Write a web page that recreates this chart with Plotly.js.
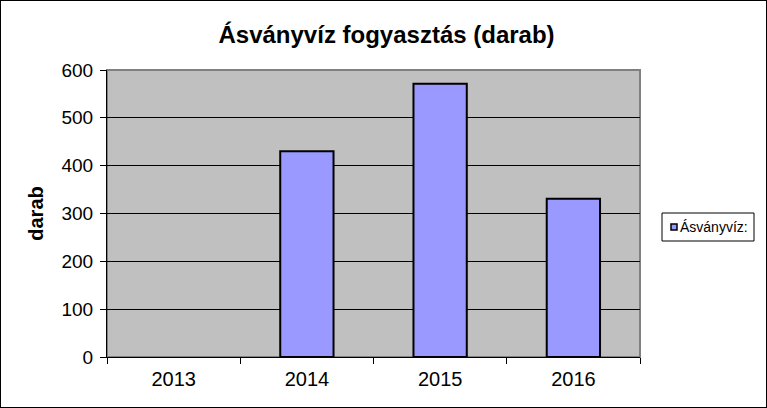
<!DOCTYPE html>
<html>
<head>
<meta charset="utf-8">
<script src="https://cdn.plot.ly/plotly-3.0.1.min.js"></script>
<style>
  html, body { margin: 0; padding: 0; background: #fff; }
  #chart { width: 765px; height: 406px; border: 1px solid #000; }
</style>
</head>
<body>
<div id="chart"></div>
<script>
// chart data
const years = ['2013', '2014', '2015', '2016'];
const darab = [0, 430, 571, 331];
const seriesName = 'Ásványvíz:';

const W = 765, H = 406;
const M = {l: 106, r: 126, t: 69, b: 50};
const PW = W - M.l - M.r, PH = H - M.t - M.b;
// pixel -> paper helpers for the hand-made legend box
const px = x => (x - 1 - M.l) / PW;
const py = y => (H - M.b - (y - 1)) / PH;

const trace = {
  type: 'bar',
  x: years,
  y: darab,
  name: seriesName,
  width: 0.4,
  marker: {
    color: '#9999FF',
    line: {color: '#000000', width: darab.map(v => v > 0 ? 2 : 0)}
  },
  showlegend: false
};

const layout = {
  width: W,
  height: H,
  margin: M,
  paper_bgcolor: '#ffffff',
  plot_bgcolor: '#C0C0C0',
  font: {family: 'Liberation Sans, Arial, sans-serif', color: '#000', size: 19},
  title: {
    text: '<b>Ásványvíz fogyasztás (darab)</b>',
    font: {size: 24, color: '#000'},
    x: 0.504, xanchor: 'center',
    y: 0.918, yanchor: 'middle'
  },
  xaxis: {
    type: 'category',
    showline: true, linecolor: '#000', linewidth: 1,
    showgrid: false,
    ticks: 'outside', ticklen: 6, tickcolor: '#000',
    tickson: 'boundaries',
    tickfont: {size: 20},
    ticklabelstandoff: 4,
    fixedrange: true
  },
  yaxis: {
    range: [0, 600],
    dtick: 100,
    showline: true, linecolor: '#000', linewidth: 1,
    showgrid: true, gridcolor: '#000', gridwidth: 1,
    zeroline: false,
    ticks: 'outside', ticklen: 6, tickcolor: '#000',
    tickfont: {size: 19},
    ticklabelstandoff: 3,
    title: {text: '<b>darab</b>', font: {size: 20}, standoff: 12},
    fixedrange: true
  },
  shapes: [
    {type: 'rect', xref: 'paper', yref: 'paper', x0: 0, x1: 1, y0: 0, y1: 1,
     line: {color: '#808080', width: 2}, layer: 'below'},
    // legend box
    {type: 'rect', xref: 'paper', yref: 'paper',
     x0: px(662), x1: px(754), y0: py(241), y1: py(213),
     line: {color: '#000', width: 1}, fillcolor: '#fff'},
    // legend swatch
    {type: 'rect', xref: 'paper', yref: 'paper',
     x0: px(671), x1: px(677), y0: py(230), y1: py(224),
     line: {color: '#000', width: 1.5}, fillcolor: '#9999FF'}
  ],
  annotations: [{
    xref: 'paper', yref: 'paper',
    x: px(678), y: py(227), xanchor: 'left', yanchor: 'middle',
    text: seriesName, showarrow: false,
    font: {size: 14, color: '#000'}
  }]
};

Plotly.newPlot('chart', [trace], layout, {displayModeBar: false, staticPlot: true});
</script>
</body>
</html>
